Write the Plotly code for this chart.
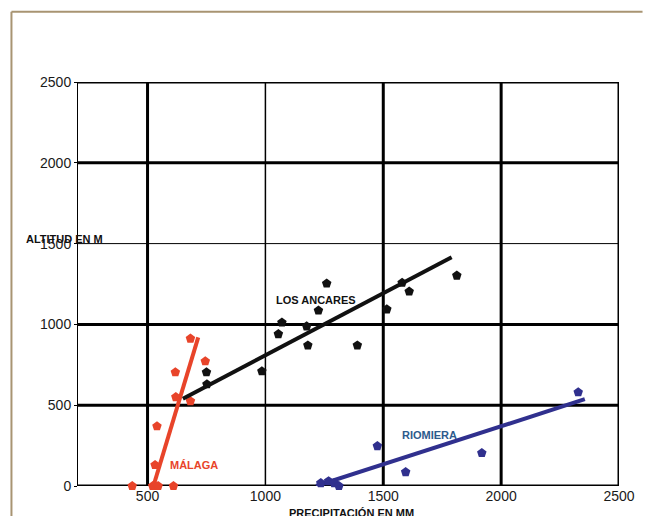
import plotly.graph_objects as go

# ---- data ----
malaga_x = [435, 522, 532, 545, 610, 532, 540, 620, 682, 618, 745, 682]
malaga_y = [0, 0, 0, 0, 0, 130, 370, 550, 525, 704, 772, 912]
malaga_fit_x = [525, 715]
malaga_fit_y = [0, 920]

ancares_x = [750, 752, 985, 1055, 1070, 1175, 1180, 1225, 1260, 1390, 1515, 1580, 1610, 1812]
ancares_y = [704, 630, 710, 940, 1012, 988, 870, 1086, 1253, 870, 1093, 1258, 1204, 1302]
ancares_fit_x = [650, 1790]
ancares_fit_y = [540, 1415]

riomiera_x = [1235, 1268, 1292, 1312, 1475, 1595, 1918, 2327]
riomiera_y = [18, 30, 18, 0, 247, 86, 204, 580]
riomiera_fit_x = [1215, 2355]
riomiera_fit_y = [0, 537]

x_ticks = [500, 1000, 1500, 2000, 2500]
y_ticks = [0, 500, 1000, 1500, 2000, 2500]
x_grid_thick = [500, 1500, 2000, 2500]
x_grid_thin = [1000]
y_grid_thick = [0, 500, 1000, 2000, 2500]
y_grid_thin = [1500]
x_min = 205

RED = "#e8442a"
BLACK = "#111111"
NAVY = "#30308e"

fig = go.Figure()

shapes = []
for v in x_grid_thick:
    shapes.append(dict(type="line", xref="x", yref="y", x0=v, x1=v, y0=0, y1=2500,
                       line=dict(color="black", width=3), layer="below"))
for v in x_grid_thin:
    shapes.append(dict(type="line", xref="x", yref="y", x0=v, x1=v, y0=0, y1=2500,
                       line=dict(color="black", width=1.5), layer="below"))
for v in y_grid_thick:
    shapes.append(dict(type="line", xref="x", yref="y", x0=x_min, x1=2500, y0=v, y1=v,
                       line=dict(color="black", width=3), layer="below"))
for v in y_grid_thin:
    shapes.append(dict(type="line", xref="x", yref="y", x0=x_min, x1=2500, y0=v, y1=v,
                       line=dict(color="black", width=1), layer="below"))
# scan frame (tan border)
shapes.append(dict(type="line", xref="paper", yref="paper", x0=-0.123, x1=1.0435, y0=1.174, y1=1.174,
                   line=dict(color="#a89472", width=2)))
shapes.append(dict(type="line", xref="paper", yref="paper", x0=-0.123, x1=-0.123, y0=1.174, y1=-0.2,
                   line=dict(color="#a89472", width=2)))

def add_group(xs, ys, fx, fy, color):
    fig.add_trace(go.Scatter(x=fx, y=fy, mode="lines", line=dict(color=color, width=4),
                             showlegend=False, hoverinfo="skip", cliponaxis=False))
    fig.add_trace(go.Scatter(x=xs, y=ys, mode="markers",
                             marker=dict(symbol="pentagon", size=10, color=color),
                             showlegend=False, cliponaxis=False))

add_group(malaga_x, malaga_y, malaga_fit_x, malaga_fit_y, RED)
add_group(ancares_x, ancares_y, ancares_fit_x, ancares_fit_y, BLACK)
add_group(riomiera_x, riomiera_y, riomiera_fit_x, riomiera_fit_y, NAVY)

LBL = "Liberation Sans"
annotations = [
    dict(x=1213, y=1148, xref="x", yref="y", text="<b>LOS ANCARES</b>", showarrow=False,
         font=dict(size=11, color="#111", family=LBL)),
    dict(x=699, y=130, xref="x", yref="y", text="<b>MÁLAGA</b>", showarrow=False,
         font=dict(size=11, color=RED, family=LBL)),
    dict(x=1694, y=315, xref="x", yref="y", text="<b>RIOMIERA</b>", showarrow=False,
         font=dict(size=11, color="#2d5b8c", family=LBL)),
    dict(x=-0.1, y=1500, xref="paper", yref="y", text="<b>ALTITUD EN M</b>", showarrow=False,
         xanchor="left", yanchor="bottom", yshift=-3,
         font=dict(size=11, color="#111", family=LBL)),
    dict(x=0.505, y=0, xref="paper", yref="paper", text="<b>PRECIPITACIÓN EN MM</b>", showarrow=False,
         yanchor="top", yshift=-19,
         font=dict(size=11, color="#111", family=LBL)),
]

fig.update_layout(
    width=647, height=516,
    margin=dict(l=78, r=24, t=82, b=29),
    paper_bgcolor="white", plot_bgcolor="white",
    shapes=shapes, annotations=annotations,
    showlegend=False,
    font=dict(family=LBL, size=14, color="#1a1a1a"),
    xaxis=dict(range=[x_min, 2500], tickvals=x_ticks, ticktext=[str(v) for v in x_ticks],
               showgrid=False, zeroline=False, showline=False, ticks="", ticklen=0,
               tickfont=dict(size=14, color="#1a1a1a")),
    yaxis=dict(range=[0, 2500], tickvals=y_ticks, ticktext=[str(v) for v in y_ticks],
               showgrid=False, zeroline=False, showline=True, linecolor="black", linewidth=1,
               ticks="outside", ticklen=3, tickcolor="black",
               tickfont=dict(size=14, color="#1a1a1a")),
)

fig.write_html("out.html", config={"displayModeBar": False})
